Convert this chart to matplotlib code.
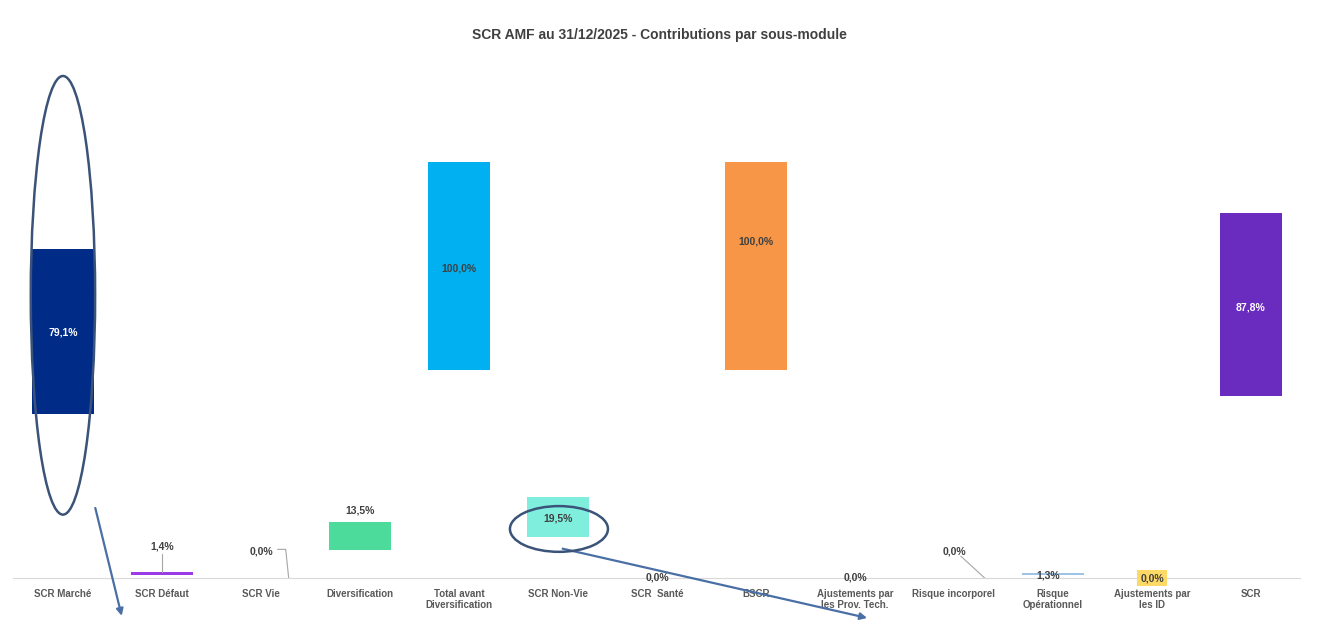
"""
SCR AMF au 31/12/2025 - contributions par sous-module (waterfall flottant).
"""
import matplotlib
matplotlib.use("Agg")
import matplotlib.pyplot as plt
from matplotlib.patches import Ellipse

categories = [
    "SCR Marché", "SCR Défaut", "SCR Vie", "Diversification",
    "Total avant\nDiversification", "SCR Non-Vie", "SCR  Santé", "BSCR",
    "Ajustements par\nles Prov. Tech.", "Risque incorporel", "Risque\nOpérationnel",
    "Ajustements par\nles ID", "SCR",
]
values = [79.1, 1.4, 0.0, 13.5, 100.0, 19.5, 0.0, 100.0, 0.0, 0.0, 1.3, 0.0, 87.8]
colors = ["#002B87", "#9B3BE8", "#9DC3E6", "#4CDB9B", "#00B0F0", "#7FEEDD",
          "#9DC3E6", "#F79646", "#9DC3E6", "#9DC3E6", "#9DC3E6", "#FFD966", "#6A2CBE"]
labels = [f"{v:.1f}%".replace(".", ",") for v in values]

plt.rcParams["font.family"] = ["Liberation Sans", "DejaVu Sans"]

fig = plt.figure(figsize=(13.18, 6.2), dpi=100)
ax = fig.add_axes([0.0102, 0.0677, 0.9765, 0.855])

x = list(range(len(categories)))
# invisible base then visible segment, same height as the value
ax.bar(x, values, 0.63, color="none")
ax.bar(x, values, 0.63, bottom=values, color=colors)

ax.set_xlim(-0.5, len(categories) - 0.5)
ax.set_ylim(0, 255)
ax.set_yticks([])
ax.set_xticks(x)
ax.set_xticklabels(categories, fontsize=7, color="#595959", fontweight="bold",
                   linespacing=1.1)
ax.tick_params(axis="x", length=0, pad=8)
for s in ["top", "left", "right"]:
    ax.spines[s].set_visible(False)
ax.spines["bottom"].set_color("#D9D9D9")

fig.suptitle("SCR AMF au 31/12/2025 - Contributions par sous-module",
             y=0.955, fontsize=10, fontweight="bold", color="#404040")

# data labels (placed as in the original sheet)
lab_pos = {0: (0, 118, "white"), 1: (1, 15.4, "#404040"), 2: (2, 13, "#404040"),
           3: (3, 32.7, "#404040"), 4: (4, 149, "#404040"), 5: (5, 28.8, "#404040"),
           6: (6, 0.3, "#404040"), 7: (7, 162, "#404040"), 8: (8, 0.3, "#404040"),
           9: (9, 13, "#404040"), 10: (9.95, 1.0, "#404040"), 11: (11, 0, "#404040"),
           12: (12, 130, "white")}
for i, (lx, ly, c) in lab_pos.items():
    kw = {}
    if i == 11:
        kw["bbox"] = dict(boxstyle="square,pad=0.3", fc="#FFD966", ec="none")
    ax.text(lx, ly, labels[i], ha="center", va="center", fontsize=7.5,
            color=c, fontweight="bold", zorder=4, **kw)

# leader lines
ax.plot([1, 1], [2.8, 11.5], color="#A6A6A6", lw=0.8)
ax.plot([2.17, 2.25, 2.28], [13.8, 13.8, 0], color="#A6A6A6", lw=0.8)
ax.plot([9.07, 9.31], [10.5, 0], color="#A6A6A6", lw=0.8)

# highlight ellipses and arrows
ax.add_patch(Ellipse((0, 136), 0.65, 211, fill=False, ec="#3B5378", lw=1.8,
                     zorder=5, clip_on=False))
ax.add_patch(Ellipse((5.01, 23.6), 0.99, 22, fill=False, ec="#3B5378", lw=1.8,
                     zorder=5, clip_on=False))
ax.annotate("", xy=(0.6, -19.5), xytext=(0.32, 35), annotation_clip=False,
            arrowprops=dict(arrowstyle="-|>", color="#4A6FA5", lw=1.6))
ax.annotate("", xy=(8.15, -19.5), xytext=(5.02, 14.4), annotation_clip=False,
            arrowprops=dict(arrowstyle="-|>", color="#4A6FA5", lw=1.6))

fig.savefig("out.png", dpi=100)
